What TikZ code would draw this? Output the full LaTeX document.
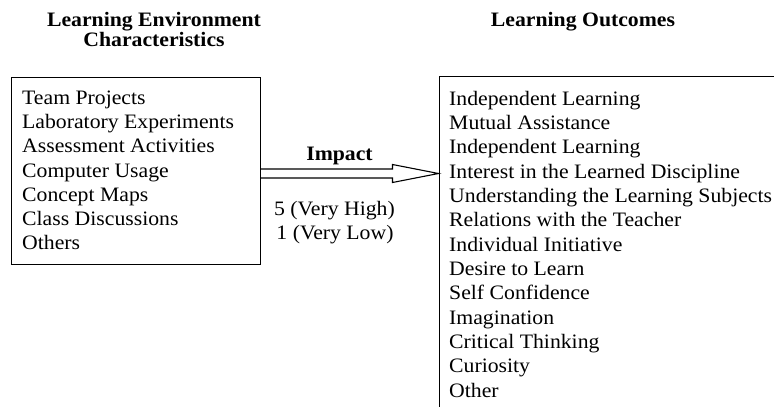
\documentclass[tikz,border=0pt]{standalone}
\usepackage{fontspec}
\setmainfont{Liberation Serif}[FakeStretch=1.06]
\usetikzlibrary{calc}

\begin{document}
\begin{tikzpicture}[x=1pt,y=-1pt,
  item/.style={anchor=base west,inner sep=0pt,font=\fontsize{20.5}{24}\selectfont},
  lbl/.style={anchor=base,inner sep=0pt,font=\fontsize{20.5}{24}\selectfont},
  head/.style={anchor=base,inner sep=0pt,font=\fontsize{20.5}{24}\selectfont\bfseries},
  frame/.style={draw,line width=1.1pt,inner sep=0pt,anchor=north west}]

\useasboundingbox (0,0) rectangle (774,407);

% headings
\node[head] (envt1) at (154,26) {Learning Environment};
\node[head] (envt2) at (154,46.5) {Characteristics};
\node[head] (outt) at (583,26) {Learning Outcomes};

% the two boxes (outcomes box runs past the page)
\node[frame,minimum width=249pt,minimum height=187pt] (env) at (11,77) {};
\node[frame,minimum width=380pt,minimum height=360pt] (outc) at (438.5,76) {};

% environment items
\node[item] (e1) at (22,104.5) {Team Projects};
\node[item] (e2) at (22,128.7) {Laboratory Experiments};
\node[item] (e3) at (22,152.9) {Assessment Activities};
\node[item] (e4) at (22,177.1) {Computer Usage};
\node[item] (e5) at (22,201.3) {Concept Maps};
\node[item] (e6) at (22,225.5) {Class Discussions};
\node[item] (e7) at (22,249.7) {Others};

% outcome items
\node[item] (o1) at (449,105) {Independent Learning};
\node[item] (o2) at (449,129.3) {Mutual Assistance};
\node[item] (o3) at (449,153.7) {Independent Learning};
\node[item] (o4) at (449,178) {Interest in the Learned Discipline};
\node[item] (o5) at (449,202.3) {Understanding the Learning Subjects};
\node[item] (o6) at (449,226.7) {Relations with the Teacher};
\node[item] (o7) at (449,251) {Individual Initiative};
\node[item] (o8) at (449,275.3) {Desire to Learn};
\node[item] (o9) at (449,299.7) {Self Confidence};
\node[item] (o10) at (449,324) {Imagination};
\node[item] (o11) at (449,348.3) {Critical Thinking};
\node[item] (o12) at (449,372.7) {Curiosity};
\node[item] (o13) at (449,397) {Other};

% hollow arrow between the boxes
\coordinate (s) at (env.east |- 0,173.5);
\coordinate (t) at (outc.west |- s);
\draw[line width=1.1pt,line join=miter]
  ($(s)+(0,-4.5)$) -- ($(t)+(-46,-4.5)$) -- ($(t)+(-46,-9)$) -- (t)
  -- ($(t)+(-46,9)$) -- ($(t)+(-46,4.5)$) -- ($(s)+(0,4.5)$);

\node[head] (imp) at (339.5,160) {Impact};
\node[lbl] (hi) at (334.5,215) {5 (Very High)};
\node[lbl] (lo) at (335,239) {1 (Very Low)};

\end{tikzpicture}
\end{document}
